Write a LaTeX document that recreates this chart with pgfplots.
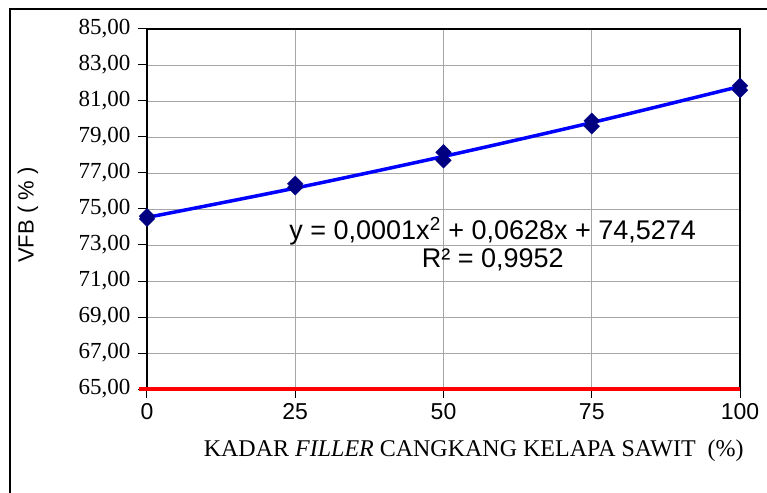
\documentclass[border=0pt]{standalone}
\usepackage{pgfplots}
\pgfplotsset{compat=1.18}
\usepackage{fontspec}
\setmainfont{Liberation Serif}
\newfontfamily\arial{Liberation Sans}
\begin{document}
\begin{tikzpicture}
\path[use as bounding box] (-147pt,-103pt) rectangle (620pt,389pt);
\draw[line width=1.2pt] (-137pt,-110pt) -- (-137pt,380pt);
\fill[black] (-137.6pt,379.5pt) rectangle (630pt,380.9pt);
\begin{axis}[
  at={(0,0)}, anchor=south west,
  scale only axis, width=593pt, height=360pt,
  xmin=0, xmax=100, ymin=65, ymax=85,
  clip=false,
  xtick={0,25,50,75,100},
  ytick={65,67,...,85},
  tick pos=left,
  grid=major,
  major grid style={gray!70, line width=0.8pt},
  axis line style={black, line width=1.5pt},
  tick align=outside,
  major tick length=9pt,
  tick style={black, line width=1pt},
  /pgf/number format/assume math mode=true,
  yticklabel style={font=\fontsize{23}{26}\selectfont, xshift=-4pt, /pgf/number format/.cd, use comma, fixed, fixed zerofill, precision=2},
  xticklabel style={font=\arial\fontsize{23}{26}\selectfont, yshift=-2pt},
  xlabel={KADAR \textit{FILLER} CANGKANG KELAPA SAWIT\ \ (\%)},
  xlabel style={font=\fontsize{24}{26}\selectfont, at={(axis description cs:0.551,0)}, anchor=center, yshift=-62pt},
  ylabel={VFB ( \% )},
  ylabel style={font=\arial\fontsize{22}{24}\selectfont, at={(axis description cs:-0.2007,0.483)}, anchor=center},
]
\addplot[only marks, mark=square*, mark size=5.5pt, mark options={rotate=45, fill=blue!50!black, draw=blue!50!black}]
  coordinates {(0,74.45)(0,74.6)(25,76.2)(25,76.4)(50,77.7)(50,78.15)(75,79.6)(75,79.9)(100,81.6)(100,81.85)};
\addplot[blue, line width=3.5pt, smooth]
  coordinates {(0,74.53)(25,76.16)(50,77.92)(75,79.80)(100,81.81)};
\addplot[red, line width=4pt] coordinates {(-1.4,65)(100,65)};
\node[font=\arial\fontsize{27}{28}\selectfont, align=center] at (axis cs:58.3,73.06)
  {y = 0,0001x\textsuperscript{2} + 0,0628x + 74,5274\\R² = 0,9952};
\draw[line width=1.2pt] ([yshift=20pt]rel axis cs:-0.231,1) -- ([yshift=20pt]rel axis cs:1.1,1);
\end{axis}
\end{tikzpicture}
\end{document}
